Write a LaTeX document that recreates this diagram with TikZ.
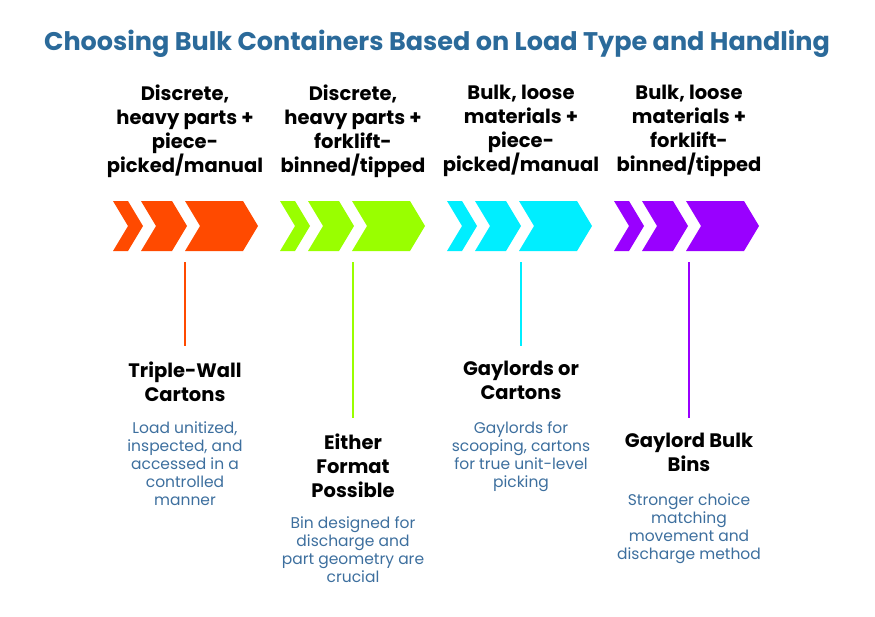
\documentclass[tikz,border=0pt]{standalone}
\usepackage{fontspec}
\setmainfont{Poppins}
\definecolor{titleblue}{HTML}{2B6A9A}
\definecolor{descblue}{HTML}{3D6F9E}
\definecolor{corange}{HTML}{FF4A00}
\definecolor{cgreen}{HTML}{99FF00}
\definecolor{ccyan}{HTML}{00EEFF}
\definecolor{cpurple}{HTML}{9900FF}
\begin{document}
\begin{tikzpicture}[x=1pt,y=-1pt,
  head/.style={align=center, font=\fontsize{19.5}{24}\selectfont\bfseries, text=black},
  label/.style={align=center, font=\fontsize{19.5}{24}\selectfont\bfseries, text=black, anchor=north},
  desc/.style={align=center, font=\fontsize{15.5}{18}\selectfont, text=descblue, anchor=north},
  stem/.style={line width=1.5pt}
]
\useasboundingbox (0,0) rectangle (875,616);
\node[font=\fontsize{25.5}{30}\selectfont\bfseries, text=titleblue] (title) at (437,44) {Choosing Bulk Containers Based on Load Type and Handling};

% chevron groups
\foreach \x/\c/\n in {113/corange/a, 280/cgreen/b, 447/ccyan/c, 614/cpurple/d}{
  \fill[\c] (\x,201) -- ++(15,0) -- ++(15,25) -- ++(-15,25) -- ++(-15,0) -- ++(15,-25) -- cycle;
  \fill[\c] (\x+28,201) -- ++(31,0) -- ++(15,25) -- ++(-15,25) -- ++(-31,0) -- ++(15,-25) -- cycle;
  \fill[\c] (\x+72,201) -- ++(58,0) -- ++(15,25) -- ++(-15,25) -- ++(-58,0) -- ++(15,-25) -- cycle;
}

% headings
\node[head] (ha) at (185,131) {Discrete,\\heavy parts +\\piece-\\picked/manual};
\node[head] (hb) at (353,131) {Discrete,\\heavy parts +\\forklift-\\binned/tipped};
\node[head] (hc) at (521,131) {Bulk, loose\\materials +\\piece-\\picked/manual};
\node[head] (hd) at (689,131) {Bulk, loose\\materials +\\forklift-\\binned/tipped};

% stems
\coordinate (sa) at (185,262); \coordinate (ea) at (185,346);
\coordinate (sb) at (353,262); \coordinate (eb) at (353,418);
\coordinate (sc) at (521,262); \coordinate (ec) at (521,346);
\coordinate (sd) at (689,262); \coordinate (ed) at (689,418);
\draw[stem, corange] (sa) -- (ea);
\draw[stem, cgreen] (sb) -- (eb);
\draw[stem, ccyan] (sc) -- (ec);
\draw[stem, cpurple] (sd) -- (ed);

% labels
\node[label] (la) at (185,358) {Triple-Wall\\Cartons};
\node[desc] (da) at (185,418) {Load unitized,\\inspected, and\\accessed in a\\controlled\\manner};
\node[label] (lb) at (353,430) {Either\\Format\\Possible};
\node[desc] (db) at (353,513) {Bin designed for\\discharge and\\part geometry are\\crucial};
\node[label] (lc) at (521,358) {Gaylords or\\Cartons};
\node[desc] (dc) at (521,418) {Gaylords for\\scooping, cartons\\for true unit-level\\picking};
\node[label] (ld) at (689,430) {Gaylord Bulk\\Bins};
\node[desc] (dd) at (689,490) {Stronger choice\\matching\\movement and\\discharge method};
\end{tikzpicture}
\end{document}
